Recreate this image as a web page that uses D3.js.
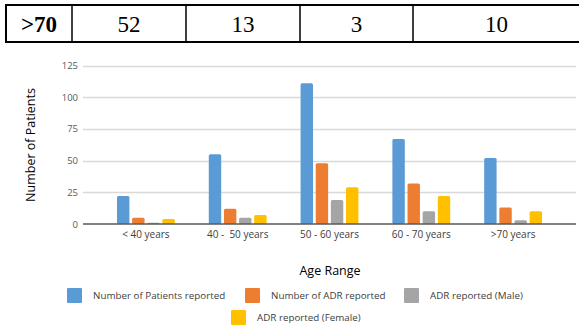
<!DOCTYPE html>
<html>
<head>
<meta charset="utf-8">
<script src="https://cdn.jsdelivr.net/npm/d3@7"></script>
<style>
  html, body { margin: 0; padding: 0; background: #fff; }
  svg { display: block; }
  svg text { white-space: pre; }
</style>
</head>
<body>
<div id="chart"></div>
<script>
const AGE_GROUPS = ['< 40 years', '40 -  50 years', '50 - 60 years', '60 - 70 years', '>70 years']
const SERIES = ['Number of Patients reported', 'Number of ADR reported', 'ADR reported (Male)', 'ADR reported (Female)']
const PATIENTS = [22, 55, 111, 67, 52]
const ADR = [5, 12, 48, 32, 13]
const ADR_MALE = [1, 5, 19, 10, 3]
const ADR_FEMALE = [4, 7, 29, 22, 10]
const Y_TICKS = [0, 25, 50, 75, 100, 125]
const TABLE_ROW = ['>70', '52', '13', '3', '10']

const COLORS = ['#5b9bd5', '#ed7d31', '#a5a5a5', '#ffc000']
const W = 579, H = 326
const FONT = '"Open Sans", "Liberation Sans", sans-serif'

const values = [PATIENTS, ADR, ADR_MALE, ADR_FEMALE]
const rows = AGE_GROUPS.map((g, i) => ({ group: g, vals: values.map((v, k) => ({ k, v: v[i] })) }))

const svg = d3.select('#chart').append('svg')
  .attr('width', W).attr('height', H)

// table strip at top
const tableX = d3.scaleOrdinal().domain(d3.range(5)).range([6, 72, 186, 300, 413])
const tableEnds = [72, 186, 300, 413, 580]
const table = svg.append('g')
table.append('rect')
  .attr('x', 6).attr('y', 5).attr('width', 580).attr('height', 37)
  .attr('fill', 'none').attr('stroke', '#000').attr('stroke-width', 2)
table.selectAll('line.col').data(d3.range(1, 5)).join('line')
  .attr('class', 'col')
  .attr('x1', i => tableX(i)).attr('x2', i => tableX(i))
  .attr('y1', 5).attr('y2', 42)
  .attr('stroke', '#000').attr('stroke-width', 1.5)
table.selectAll('text').data(TABLE_ROW).join('text')
  .attr('x', (d, i) => (tableX(i) + tableEnds[i]) / 2)
  .attr('y', 32)
  .attr('text-anchor', 'middle')
  .attr('font-family', '"Liberation Serif", "Times New Roman", serif')
  .attr('font-size', 23)
  .attr('font-weight', (d, i) => i === 0 ? 'bold' : 'normal')
  .attr('fill', '#000')
  .text(d => d)

// chart
const plotLeft = 83, plotRight = 576
const x0 = d3.scaleBand().domain(AGE_GROUPS).range([100, 559]).paddingInner(0).paddingOuter(0)
const x1 = d3.scaleBand().domain(d3.range(4)).range([x0.bandwidth() * 0.185, x0.bandwidth() * 0.815]).paddingInner(0.18)
const y = d3.scaleLinear().domain([0, 125]).range([224, 65.5])

const grid = svg.append('g')
grid.selectAll('line').data(Y_TICKS.slice(1)).join('line')
  .attr('x1', plotLeft).attr('x2', plotRight)
  .attr('y1', d => Math.round(y(d)) + 0.5).attr('y2', d => Math.round(y(d)) + 0.5)
  .attr('stroke', '#d9d9d9').attr('stroke-width', 1.3)

const yAxis = d3.axisLeft(y).tickValues(Y_TICKS).tickSize(0).tickPadding(5)
svg.append('g')
  .attr('transform', `translate(${plotLeft},0)`)
  .call(yAxis)
  .call(g => g.select('.domain').remove())
  .call(g => g.selectAll('text').attr('fill', '#595959').attr('font-size', 9.5).attr('font-family', FONT))

const groups = svg.append('g').selectAll('g').data(rows).join('g')
  .attr('transform', d => `translate(${x0(d.group)},0)`)
groups.selectAll('rect').data(d => d.vals).join('rect')
  .attr('x', d => x1(d.k))
  .attr('width', x1.bandwidth())
  .attr('y', d => y(d.v))
  .attr('height', d => y(0) - y(d.v))
  .attr('rx', 1.5)
  .attr('fill', d => COLORS[d.k])

svg.append('line')
  .attr('x1', plotLeft).attr('x2', plotRight)
  .attr('y1', y(0)).attr('y2', y(0))
  .attr('stroke', '#595959').attr('stroke-width', 1.5)

const xAxis = d3.axisBottom(x0).tickSize(0).tickPadding(7)
svg.append('g')
  .attr('transform', `translate(0,${y(0)})`)
  .call(xAxis)
  .call(g => g.select('.domain').remove())
  .call(g => g.selectAll('text').attr('fill', '#404040').attr('font-size', 10).attr('font-family', FONT))

svg.append('text')
  .attr('transform', 'translate(35,145) rotate(-90)')
  .attr('text-anchor', 'middle')
  .attr('font-family', FONT).attr('font-size', 12.5).attr('fill', '#000')
  .text('Number of Patients')

svg.append('text')
  .attr('x', 330).attr('y', 275)
  .attr('text-anchor', 'middle')
  .attr('font-family', FONT).attr('font-size', 12.5).attr('fill', '#000')
  .text('Age Range')

// legend
const LEGEND_POS = [[67, 288], [245, 288], [404, 288], [231, 310]]
const legend = svg.append('g').selectAll('g').data(SERIES).join('g')
  .attr('transform', (d, i) => `translate(${LEGEND_POS[i][0]},${LEGEND_POS[i][1]})`)
legend.append('rect')
  .attr('width', 15).attr('height', 15).attr('rx', 1)
  .attr('fill', (d, i) => COLORS[i])
legend.append('text')
  .attr('x', 26).attr('y', 11)
  .attr('font-family', FONT).attr('font-size', 9.8).attr('fill', '#404040')
  .text(d => d)
</script>
</body>
</html>
